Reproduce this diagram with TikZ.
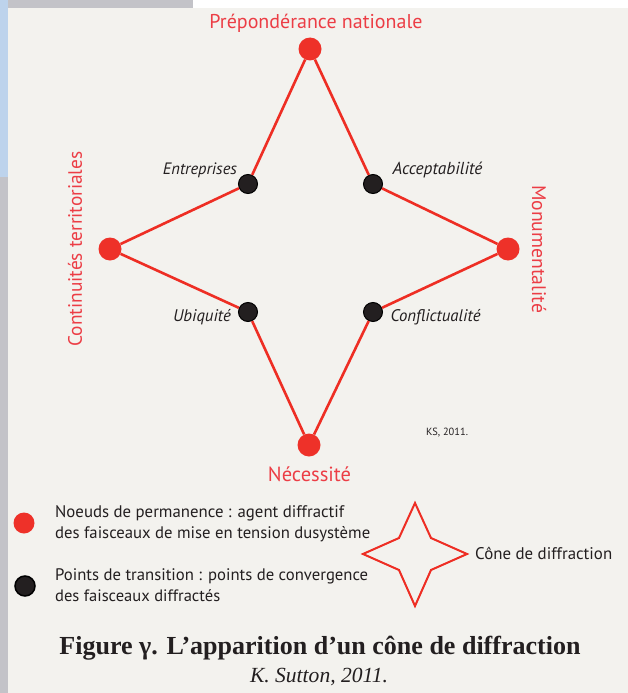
\documentclass[tikz,border=0pt]{standalone}
\usepackage{fontspec}
\usepackage{graphicx}
\setmainfont{PT Sans}
\newfontfamily\serifcap{Liberation Serif}
\definecolor{bgc}{HTML}{F3F2EE}
\definecolor{stripgray}{HTML}{C3C3C8}
\definecolor{stripblue}{HTML}{BDD3EC}
\definecolor{dotred}{HTML}{EE3129}
\definecolor{linered}{HTML}{EE2E24}
\definecolor{txtred}{HTML}{EC3D45}
\definecolor{dotblack}{HTML}{231F20}
\definecolor{txtdark}{HTML}{231F20}
\newcommand{\fw}[2]{\resizebox{#1pt}{!}{#2}}
\begin{document}
\begin{tikzpicture}[x=1pt,y=-1pt,
  reddot/.style={circle,fill=dotred,inner sep=0pt,minimum size=23pt},
  blackdot/.style={circle,fill=dotblack,draw=black,line width=1pt,inner sep=0pt,minimum size=19pt},
  redlbl/.style={inner sep=0pt,text=txtred},
  itlbl/.style={inner sep=0pt,text=txtdark,font=\itshape},
  legtxt/.style={inner sep=0pt,text=txtdark,anchor=west},
  redline/.style={draw=linered,line width=2.6pt}]
\useasboundingbox (0,0) rectangle (628,693);
\fill[bgc] (0,0) rectangle (628,693);
\fill[white] (193,0) rectangle (628,8);
\fill[stripgray] (8,0) rectangle (193,8);
\fill[stripblue] (0,0) rectangle (8,177);
\fill[stripgray] (0,177) rectangle (8,693);

% main diagram nodes
\node[reddot] (P) at (310,49) {};
\node[reddot] (L) at (110,249) {};
\node[reddot] (M) at (508,249) {};
\node[reddot] (N) at (309,445) {};
\node[blackdot] (E) at (248,184) {};
\node[blackdot] (A) at (373,184) {};
\node[blackdot] (U) at (248,312) {};
\node[blackdot] (C) at (373,312) {};

\draw[redline] (P) -- (E);
\draw[redline] (E) -- (L);
\draw[redline] (L) -- (U);
\draw[redline] (U) -- (N);
\draw[redline] (N) -- (C);
\draw[redline] (C) -- (M);
\draw[redline] (M) -- (A);
\draw[redline] (A) -- (P);

% labels
\node[redlbl] (tP) at (316,23) {\fw{213}{Prépondérance nationale}};
\node[redlbl] (tN) at (309.5,474) {\fw{83}{Nécessité}};
\node[redlbl,rotate=90] (tL) at (75,249) {\fw{195}{Continuités territoriales}};
\node[redlbl,rotate=-90] (tM) at (539,249) {\fw{128}{Monumentalité}};
\node[itlbl] (tE) at (200,170) {\fw{74}{Entreprises}};
\node[itlbl] (tA) at (437.5,170) {\fw{90}{Acceptabilité}};
\node[itlbl] (tU) at (202,317) {\fw{58}{Ubiquité}};
\node[itlbl] (tC) at (435.5,317) {\fw{90}{Conflictualité}};
\node[inner sep=0pt,text=txtdark] (ks) at (447,433) {\fw{42}{KS, 2011.}};

% legend
\node[reddot,minimum size=21pt] (lr) at (24,523) {};
\node[blackdot,minimum size=20pt,line width=1.5pt] (lb) at (25,586) {};
\node[legtxt] (l1) at (55,513) {\fw{289}{Noeuds de permanence : agent diffractif}};
\node[legtxt] (l2) at (55,534) {\fw{315}{des faisceaux de mise en tension dusystème}};
\node[legtxt] (l3) at (55,576) {\fw{313}{Points de transition : points de convergence}};
\node[legtxt] (l4) at (55,596) {\fw{165}{des faisceaux diffractés}};
\draw[draw=linered,line width=2pt,line join=miter]
  (415,503) -- (431,538) -- (467,554) -- (431,570) -- (415,606)
  -- (399,570) -- (363,554) -- (399,538) -- cycle;
\node[legtxt] (cone) at (475,553) {\fw{137}{Cône de diffraction}};

% caption
\node[inner sep=0pt,text=txtdark] (cap) at (320,648)
  {\fw{521}{\serifcap\bfseries Figure γ. L’apparition d’un cône de diffraction}};
\node[inner sep=0pt,text=txtdark] (auth) at (319,677)
  {\fw{138}{\serifcap\itshape K. Sutton, 2011.}};
\end{tikzpicture}
\end{document}
